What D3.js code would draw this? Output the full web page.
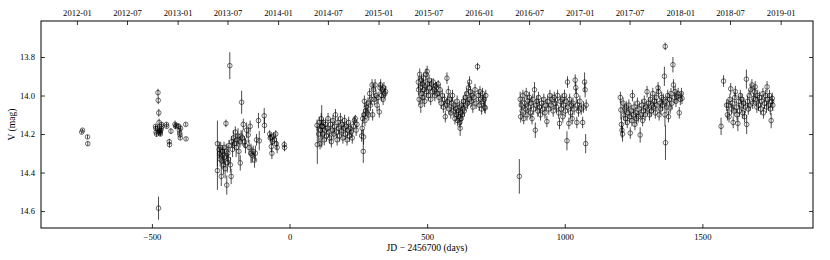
<!DOCTYPE html>
<html>
<head>
<meta charset="utf-8">
<script src="https://cdn.jsdelivr.net/npm/d3@7"></script>
<style>
  body { margin: 0; background: #fff; }
  svg { display: block; }
  .tick text { font-family: "Liberation Serif", "DejaVu Serif", serif; font-size: 8.6px; fill: #000; }
  .tick line { stroke: #000; stroke-width: 0.8; }
  .lbl { font-family: "Liberation Serif", "DejaVu Serif", serif; font-size: 9.6px; fill: #000; }
</style>
</head>
<body>
<svg id="chart" width="830" height="260"></svg>
<script>
// light curve, [JD - 2456700, V mag, error], one array per observing season
const season2012 = [
  [-755, 14.19, 0.008], [-752, 14.18, 0.008], [-734, 14.215, 0.01], [-733, 14.25, 0.012]
];
const season2013a = [
  [-487, 14.16, 0.01], [-486, 14.17, 0.01], [-485, 14.19, 0.01], [-483, 14.20, 0.015], [-480, 14.17, 0.015],
  [-478, 13.985, 0.02], [-477, 14.025, 0.02], [-475, 14.09, 0.02], [-474, 14.14, 0.02], [-473, 14.18, 0.015],
  [-472, 14.19, 0.01], [-471, 14.195, 0.01], [-470, 14.185, 0.01], [-469, 14.20, 0.01], [-468, 14.18, 0.01],
  [-466, 14.17, 0.01], [-465, 14.15, 0.01], [-464, 14.16, 0.01], [-476, 14.585, 0.06], [-447, 14.15, 0.01],
  [-446, 14.16, 0.01], [-437, 14.24, 0.015], [-436, 14.255, 0.015], [-431, 14.185, 0.015], [-416, 14.15, 0.02],
  [-414, 14.16, 0.015], [-411, 14.155, 0.01], [-402, 14.16, 0.015], [-400, 14.18, 0.01], [-399, 14.195, 0.01],
  [-398, 14.205, 0.01], [-397, 14.22, 0.01], [-396, 14.17, 0.015], [-377, 14.15, 0.01], [-376, 14.225, 0.01]
];
const season2013b = [
  [-262, 14.25, 0.12], [-262, 14.39, 0.1], [-256, 14.28, 0.04], [-254, 14.30, 0.03], [-252, 14.33, 0.04],
  [-250, 14.27, 0.03], [-248, 14.42, 0.05], [-246, 14.34, 0.04], [-244, 14.29, 0.03], [-242, 14.31, 0.04],
  [-240, 14.36, 0.05], [-238, 14.27, 0.03], [-236, 14.32, 0.04], [-234, 14.38, 0.05], [-231, 14.145, 0.02],
  [-230, 14.29, 0.04], [-228, 14.465, 0.05], [-226, 14.35, 0.05], [-224, 14.30, 0.04], [-222, 14.33, 0.03],
  [-220, 14.26, 0.03], [-217, 13.845, 0.07], [-215, 14.36, 0.04], [-212, 14.42, 0.04], [-210, 14.24, 0.03],
  [-207, 14.28, 0.04], [-204, 14.22, 0.04], [-200, 14.25, 0.03], [-197, 14.19, 0.03], [-194, 14.27, 0.05],
  [-190, 14.23, 0.03], [-187, 14.21, 0.04], [-184, 14.29, 0.05], [-180, 14.24, 0.03], [-179, 14.35, 0.04],
  [-176, 14.21, 0.03], [-174, 14.035, 0.06], [-172, 14.22, 0.04], [-168, 14.15, 0.03], [-164, 14.24, 0.03],
  [-160, 14.26, 0.04], [-156, 14.18, 0.04], [-150, 14.205, 0.04], [-147, 14.27, 0.04], [-143, 14.16, 0.03],
  [-140, 14.30, 0.05], [-136, 14.31, 0.04], [-132, 14.29, 0.03], [-127, 14.335, 0.04], [-124, 14.30, 0.04],
  [-120, 14.23, 0.03], [-113, 14.13, 0.04], [-110, 14.235, 0.05], [-92, 14.105, 0.04], [-91, 14.155, 0.04],
  [-72, 14.20, 0.02], [-70, 14.22, 0.02], [-68, 14.215, 0.02], [-66, 14.265, 0.03], [-64, 14.30, 0.03],
  [-62, 14.24, 0.02], [-58, 14.21, 0.02], [-55, 14.23, 0.02], [-50, 14.20, 0.02], [-48, 14.25, 0.03],
  [-45, 14.27, 0.03], [-19, 14.255, 0.02], [-18, 14.27, 0.02]
];
const season2014 = [
  [100, 14.155, 0.03], [101, 14.255, 0.1], [106, 14.20, 0.04], [108, 14.14, 0.03], [111, 14.25, 0.03],
  [113, 14.18, 0.04], [117, 14.16, 0.11], [115, 14.12, 0.03], [119, 14.16, 0.03], [121, 14.20, 0.03],
  [123, 14.14, 0.02], [126, 14.23, 0.03], [128, 14.18, 0.03], [131, 14.15, 0.03], [134, 14.21, 0.03],
  [137, 14.17, 0.02], [140, 14.12, 0.03], [143, 14.19, 0.03], [146, 14.22, 0.03], [149, 14.15, 0.03],
  [152, 14.24, 0.03], [155, 14.18, 0.03], [158, 14.13, 0.03], [161, 14.20, 0.03], [164, 14.16, 0.03],
  [167, 14.10, 0.03], [170, 14.19, 0.03], [173, 14.23, 0.03], [176, 14.14, 0.03], [179, 14.17, 0.03],
  [182, 14.21, 0.03], [185, 14.12, 0.03], [188, 14.18, 0.03], [191, 14.15, 0.03], [194, 14.22, 0.03],
  [197, 14.17, 0.03], [200, 14.13, 0.03], [203, 14.20, 0.03], [206, 14.16, 0.03], [209, 14.23, 0.03],
  [212, 14.18, 0.03], [215, 14.14, 0.03], [218, 14.21, 0.03], [221, 14.17, 0.03], [224, 14.19, 0.03],
  [228, 14.22, 0.03], [232, 14.16, 0.03], [236, 14.13, 0.02], [239, 14.12, 0.02], [242, 14.18, 0.03],
  [245, 14.15, 0.02],
  [262, 14.21, 0.03], [264, 14.17, 0.03], [266, 14.12, 0.03], [268, 14.29, 0.06], [269, 14.215, 0.04],
  [270, 14.10, 0.03], [272, 14.03, 0.03], [274, 14.13, 0.03], [276, 14.08, 0.03], [279, 14.06, 0.03],
  [282, 14.09, 0.03], [285, 14.04, 0.03], [288, 14.10, 0.03], [291, 13.99, 0.03], [294, 14.05, 0.03],
  [297, 14.02, 0.03], [300, 13.945, 0.03], [302, 14.10, 0.03], [305, 13.97, 0.03], [308, 14.02, 0.03],
  [311, 13.945, 0.03], [314, 14.00, 0.03], [318, 14.05, 0.03], [322, 14.01, 0.03], [326, 14.085, 0.03],
  [329, 13.96, 0.03], [331, 13.945, 0.03], [334, 14.00, 0.03], [337, 13.97, 0.03], [340, 14.02, 0.03],
  [343, 13.96, 0.03], [346, 13.99, 0.03], [349, 13.98, 0.03]
];
const season2015 = [
  [468, 13.93, 0.03], [469, 13.97, 0.03], [471, 14.02, 0.03], [473, 13.89, 0.03], [475, 13.96, 0.03],
  [477, 14.05, 0.04], [479, 13.92, 0.03], [481, 13.99, 0.03], [483, 13.94, 0.03], [485, 14.01, 0.03],
  [487, 13.91, 0.03], [489, 13.97, 0.03], [491, 14.03, 0.03], [493, 13.95, 0.03], [496, 13.89, 0.03],
  [498, 13.98, 0.03], [500, 13.875, 0.03], [502, 13.94, 0.03], [504, 14.00, 0.03], [507, 13.92, 0.03],
  [510, 13.96, 0.03], [513, 14.02, 0.03], [516, 13.94, 0.03], [519, 13.98, 0.03], [522, 13.93, 0.02],
  [525, 13.97, 0.03], [528, 14.00, 0.03], [531, 13.95, 0.02], [534, 13.96, 0.03], [537, 13.99, 0.02],
  [540, 13.94, 0.02], [543, 14.01, 0.03], [547, 13.97, 0.03], [551, 14.04, 0.03], [555, 14.00, 0.03],
  [559, 14.06, 0.03], [563, 14.02, 0.03], [566, 14.11, 0.03], [569, 14.05, 0.03], [572, 13.91, 0.03],
  [574, 14.03, 0.03], [577, 13.98, 0.03], [580, 14.07, 0.03], [583, 14.02, 0.03], [586, 14.09, 0.03],
  [589, 14.04, 0.03], [592, 14.00, 0.03], [595, 14.08, 0.03], [598, 14.05, 0.03], [601, 14.12, 0.03],
  [604, 14.07, 0.03], [607, 14.10, 0.03], [609, 14.03, 0.03], [611, 14.13, 0.03], [613, 14.08, 0.03],
  [615, 14.11, 0.03], [617, 14.06, 0.03], [619, 14.14, 0.03], [620, 14.17, 0.04], [622, 14.09, 0.03],
  [624, 14.12, 0.03], [626, 14.05, 0.03], [628, 14.10, 0.03], [630, 14.07, 0.03], [632, 14.03, 0.03],
  [635, 14.08, 0.03], [638, 14.01, 0.03], [641, 14.05, 0.03], [644, 13.99, 0.03], [647, 14.04, 0.03],
  [650, 13.96, 0.03], [652, 14.02, 0.03], [654, 13.93, 0.03], [657, 13.98, 0.03], [660, 14.03, 0.03],
  [663, 14.00, 0.03], [666, 14.06, 0.03], [670, 14.01, 0.03], [674, 13.97, 0.03], [678, 14.04, 0.03],
  [683, 13.85, 0.02], [686, 14.00, 0.03], [689, 14.05, 0.03], [692, 13.98, 0.03], [695, 14.02, 0.03],
  [698, 14.07, 0.03], [701, 13.99, 0.03], [704, 14.03, 0.03], [707, 14.02, 0.03], [709, 14.06, 0.03],
  [711, 14.065, 0.03], [713, 14.00, 0.03]
];
const season2016 = [
  [835, 14.42, 0.09], [838, 14.02, 0.04], [840, 14.11, 0.03], [842, 14.05, 0.03], [845, 14.08, 0.03],
  [848, 14.00, 0.03], [851, 14.12, 0.03], [854, 14.04, 0.03], [857, 14.07, 0.03], [860, 13.99, 0.03],
  [863, 14.10, 0.03], [866, 14.03, 0.03], [869, 14.06, 0.03], [872, 14.01, 0.03], [875, 14.09, 0.03],
  [878, 14.04, 0.03], [881, 14.12, 0.03], [884, 14.02, 0.03], [887, 14.07, 0.03], [890, 13.97, 0.04],
  [893, 14.18, 0.04], [896, 14.05, 0.03], [899, 14.03, 0.03], [902, 14.08, 0.03], [905, 14.01, 0.03],
  [908, 14.06, 0.03], [912, 14.10, 0.03], [916, 14.04, 0.03], [920, 14.07, 0.03], [924, 14.02, 0.03],
  [928, 14.09, 0.03], [932, 14.05, 0.03], [935, 14.135, 0.03], [938, 14.03, 0.03], [942, 14.07, 0.03],
  [946, 14.00, 0.03], [950, 14.05, 0.03], [954, 14.02, 0.03], [958, 14.08, 0.03], [962, 14.01, 0.03],
  [966, 14.04, 0.03], [970, 14.06, 0.03], [974, 14.00, 0.03], [978, 14.09, 0.03], [981, 14.145, 0.03],
  [984, 14.03, 0.03], [987, 14.07, 0.03], [990, 14.02, 0.03], [993, 14.11, 0.03], [996, 14.05, 0.03],
  [999, 14.00, 0.03], [1002, 14.08, 0.03], [1005, 14.03, 0.03], [1008, 14.235, 0.05], [1010, 13.93, 0.03],
  [1012, 14.06, 0.03], [1015, 14.145, 0.03], [1018, 14.02, 0.03], [1021, 14.09, 0.03], [1024, 14.05, 0.03],
  [1027, 14.12, 0.03], [1030, 14.04, 0.03], [1034, 14.07, 0.03], [1038, 13.92, 0.03], [1040, 13.96, 0.03],
  [1042, 14.00, 0.04], [1044, 14.14, 0.03], [1046, 14.05, 0.03], [1050, 14.08, 0.03], [1055, 14.03, 0.03],
  [1060, 14.07, 0.03], [1065, 14.14, 0.03], [1068, 14.06, 0.03], [1072, 13.93, 0.05], [1074, 13.97, 0.04],
  [1076, 14.25, 0.05], [1078, 14.05, 0.03]
];
const season2017 = [
  [1202, 14.01, 0.03], [1204, 14.075, 0.05], [1206, 14.15, 0.04], [1208, 14.18, 0.04], [1210, 14.20, 0.04],
  [1212, 14.04, 0.03], [1215, 14.10, 0.03], [1218, 14.07, 0.03], [1221, 14.12, 0.03], [1224, 14.06, 0.03],
  [1227, 14.14, 0.03], [1230, 14.09, 0.03], [1233, 14.05, 0.03], [1236, 14.11, 0.03], [1238, 14.195, 0.03],
  [1241, 14.08, 0.03], [1244, 14.13, 0.03], [1246, 14.00, 0.03], [1249, 14.10, 0.03], [1252, 14.06, 0.03],
  [1255, 14.15, 0.03], [1258, 14.09, 0.03], [1261, 14.12, 0.03], [1264, 14.04, 0.03], [1267, 14.11, 0.03],
  [1270, 14.07, 0.03], [1274, 14.205, 0.04], [1277, 14.10, 0.03], [1280, 14.05, 0.03], [1283, 14.13, 0.03],
  [1286, 14.08, 0.03], [1289, 14.03, 0.03], [1292, 14.10, 0.03], [1295, 14.06, 0.03], [1299, 13.98, 0.03],
  [1302, 14.07, 0.03], [1305, 14.04, 0.03], [1308, 14.10, 0.03], [1311, 14.02, 0.03], [1314, 14.08, 0.03],
  [1317, 14.05, 0.03], [1320, 13.99, 0.03], [1323, 14.06, 0.03], [1326, 14.03, 0.03], [1329, 14.09, 0.03],
  [1332, 14.01, 0.03], [1335, 14.05, 0.03], [1339, 13.96, 0.03], [1341, 13.98, 0.03], [1343, 14.10, 0.03],
  [1346, 14.04, 0.03], [1349, 14.07, 0.03], [1352, 14.01, 0.03], [1355, 14.05, 0.03], [1358, 14.02, 0.03],
  [1362, 13.90, 0.05], [1364, 14.10, 0.06], [1365, 13.745, 0.02], [1366, 14.245, 0.09], [1368, 14.03, 0.03],
  [1371, 14.06, 0.03], [1374, 14.00, 0.03], [1377, 14.11, 0.03], [1380, 14.02, 0.03], [1383, 14.065, 0.03],
  [1386, 13.99, 0.03], [1389, 14.04, 0.03], [1393, 13.84, 0.04], [1395, 13.945, 0.03], [1398, 14.01, 0.03],
  [1401, 13.98, 0.03], [1404, 14.03, 0.03], [1408, 14.005, 0.03], [1412, 13.99, 0.03], [1416, 14.09, 0.03],
  [1420, 14.02, 0.03], [1424, 13.99, 0.03], [1426, 14.015, 0.03]
];
const season2018 = [
  [1568, 14.16, 0.045], [1577, 13.925, 0.03], [1588, 14.05, 0.03], [1591, 14.10, 0.03], [1594, 14.05, 0.03],
  [1597, 14.11, 0.03], [1600, 14.02, 0.03], [1603, 13.965, 0.03], [1606, 14.07, 0.03], [1609, 14.04, 0.03],
  [1612, 14.14, 0.03], [1615, 14.08, 0.03], [1618, 14.01, 0.03], [1620, 13.98, 0.03], [1623, 14.06, 0.03],
  [1626, 14.10, 0.03], [1629, 14.145, 0.04], [1632, 14.03, 0.03], [1635, 14.08, 0.03], [1638, 14.00, 0.03],
  [1641, 14.05, 0.03], [1644, 14.02, 0.03], [1647, 14.09, 0.03], [1650, 14.04, 0.03], [1653, 14.11, 0.03],
  [1656, 14.06, 0.03], [1660, 13.915, 0.05], [1661, 14.15, 0.05], [1664, 14.03, 0.03], [1667, 14.07, 0.03],
  [1670, 14.00, 0.03], [1673, 14.05, 0.03], [1676, 13.97, 0.03], [1680, 13.945, 0.03], [1683, 14.04, 0.03],
  [1686, 14.015, 0.03], [1689, 13.98, 0.03], [1692, 13.955, 0.03], [1695, 14.02, 0.03], [1698, 14.06, 0.03],
  [1701, 14.00, 0.03], [1704, 14.05, 0.03], [1708, 14.01, 0.03], [1712, 14.07, 0.03], [1716, 14.03, 0.03],
  [1720, 13.99, 0.03], [1722, 14.09, 0.03], [1726, 14.04, 0.03], [1730, 14.00, 0.03], [1733, 14.06, 0.03],
  [1735, 13.955, 0.03], [1738, 14.02, 0.03], [1741, 14.05, 0.03], [1744, 14.00, 0.03], [1747, 14.07, 0.03],
  [1750, 14.13, 0.04], [1752, 14.03, 0.03], [1754, 14.015, 0.03], [1756, 14.05, 0.03]
];

const jdTicks = [-500, 0, 500, 1000, 1500];
const magTicks = [13.8, 14.0, 14.2, 14.4, 14.6];
const dateTicks = ['2012-01', '2012-07', '2013-01', '2013-07', '2014-01', '2014-07', '2015-01',
  '2015-07', '2016-01', '2016-07', '2017-01', '2017-07', '2018-01', '2018-07', '2019-01'];
const JD0 = 2456700;

const svg = d3.select('#chart');
const padL = 41, padR = 813, padT = 21, padB = 228;

const x = d3.scaleLinear().domain([-903, 1902]).range([padL, padR]);
const y = d3.scaleLinear().domain([13.613, 14.688]).range([padT, padB]);

// top axis shows calendar dates of the same JD range
const toDate = (d) => new Date((d + JD0 - 2440587.5) * 86400000);
const xDate = d3.scaleUtc().domain(x.domain().map(toDate)).range(x.range());
const parseMonth = d3.utcParse('%Y-%m');

const points = [].concat(season2012, season2013a, season2013b, season2014,
  season2015, season2016, season2017, season2018);

// error bars
svg.append('g')
  .selectAll('line').data(points).enter()
  .append('line')
  .attr('x1', (d) => x(d[0]))
  .attr('x2', (d) => x(d[0]))
  .attr('y1', (d) => y(d[1] - d[2]))
  .attr('y2', (d) => y(d[1] + d[2]))
  .attr('stroke', '#000')
  .attr('stroke-opacity', 0.7)
  .attr('stroke-width', 1);

// open markers
svg.append('g')
  .selectAll('circle').data(points).enter()
  .append('circle')
  .attr('cx', (d) => x(d[0]))
  .attr('cy', (d) => y(d[1]))
  .attr('r', 2.3)
  .attr('fill', 'none')
  .attr('stroke', '#000')
  .attr('stroke-opacity', 0.75)
  .attr('stroke-width', 0.75);

// axes, ticks pointing inward
svg.append('g').attr('transform', `translate(0,${padB})`)
  .call(d3.axisBottom(x).tickValues(jdTicks).tickSize(-4).tickPadding(6)
    .tickFormat((d) => (d < 0 ? '\u2212' + Math.abs(d) : d)))
  .call((g) => g.select('.domain').remove());

svg.append('g').attr('transform', `translate(0,${padT})`)
  .call(d3.axisTop(xDate).tickValues(dateTicks.map(parseMonth)).tickSize(-4).tickPadding(5)
    .tickFormat(d3.utcFormat('%Y-%m')))
  .call((g) => g.select('.domain').remove());

svg.append('g').attr('transform', `translate(${padL},0)`)
  .call(d3.axisLeft(y).tickValues(magTicks).tickSize(-4).tickPadding(6).tickFormat(d3.format('.1f')))
  .call((g) => g.select('.domain').remove());

svg.append('g').attr('transform', `translate(${padR},0)`)
  .call(d3.axisRight(y).tickValues(magTicks).tickSize(-4).tickFormat(''))
  .call((g) => g.select('.domain').remove());

svg.append('rect')
  .attr('x', padL).attr('y', padT)
  .attr('width', padR - padL).attr('height', padB - padT)
  .attr('fill', 'none').attr('stroke', '#000').attr('stroke-width', 1);

svg.append('text').attr('class', 'lbl')
  .attr('x', (padL + padR) / 2).attr('y', 251)
  .attr('text-anchor', 'middle')
  .text('JD \u2212 2456700 (days)');

svg.append('text').attr('class', 'lbl')
  .attr('transform', `translate(15,${(padT + padB) / 2}) rotate(-90)`)
  .attr('text-anchor', 'middle')
  .text('V (mag)');
</script>
</body>
</html>
